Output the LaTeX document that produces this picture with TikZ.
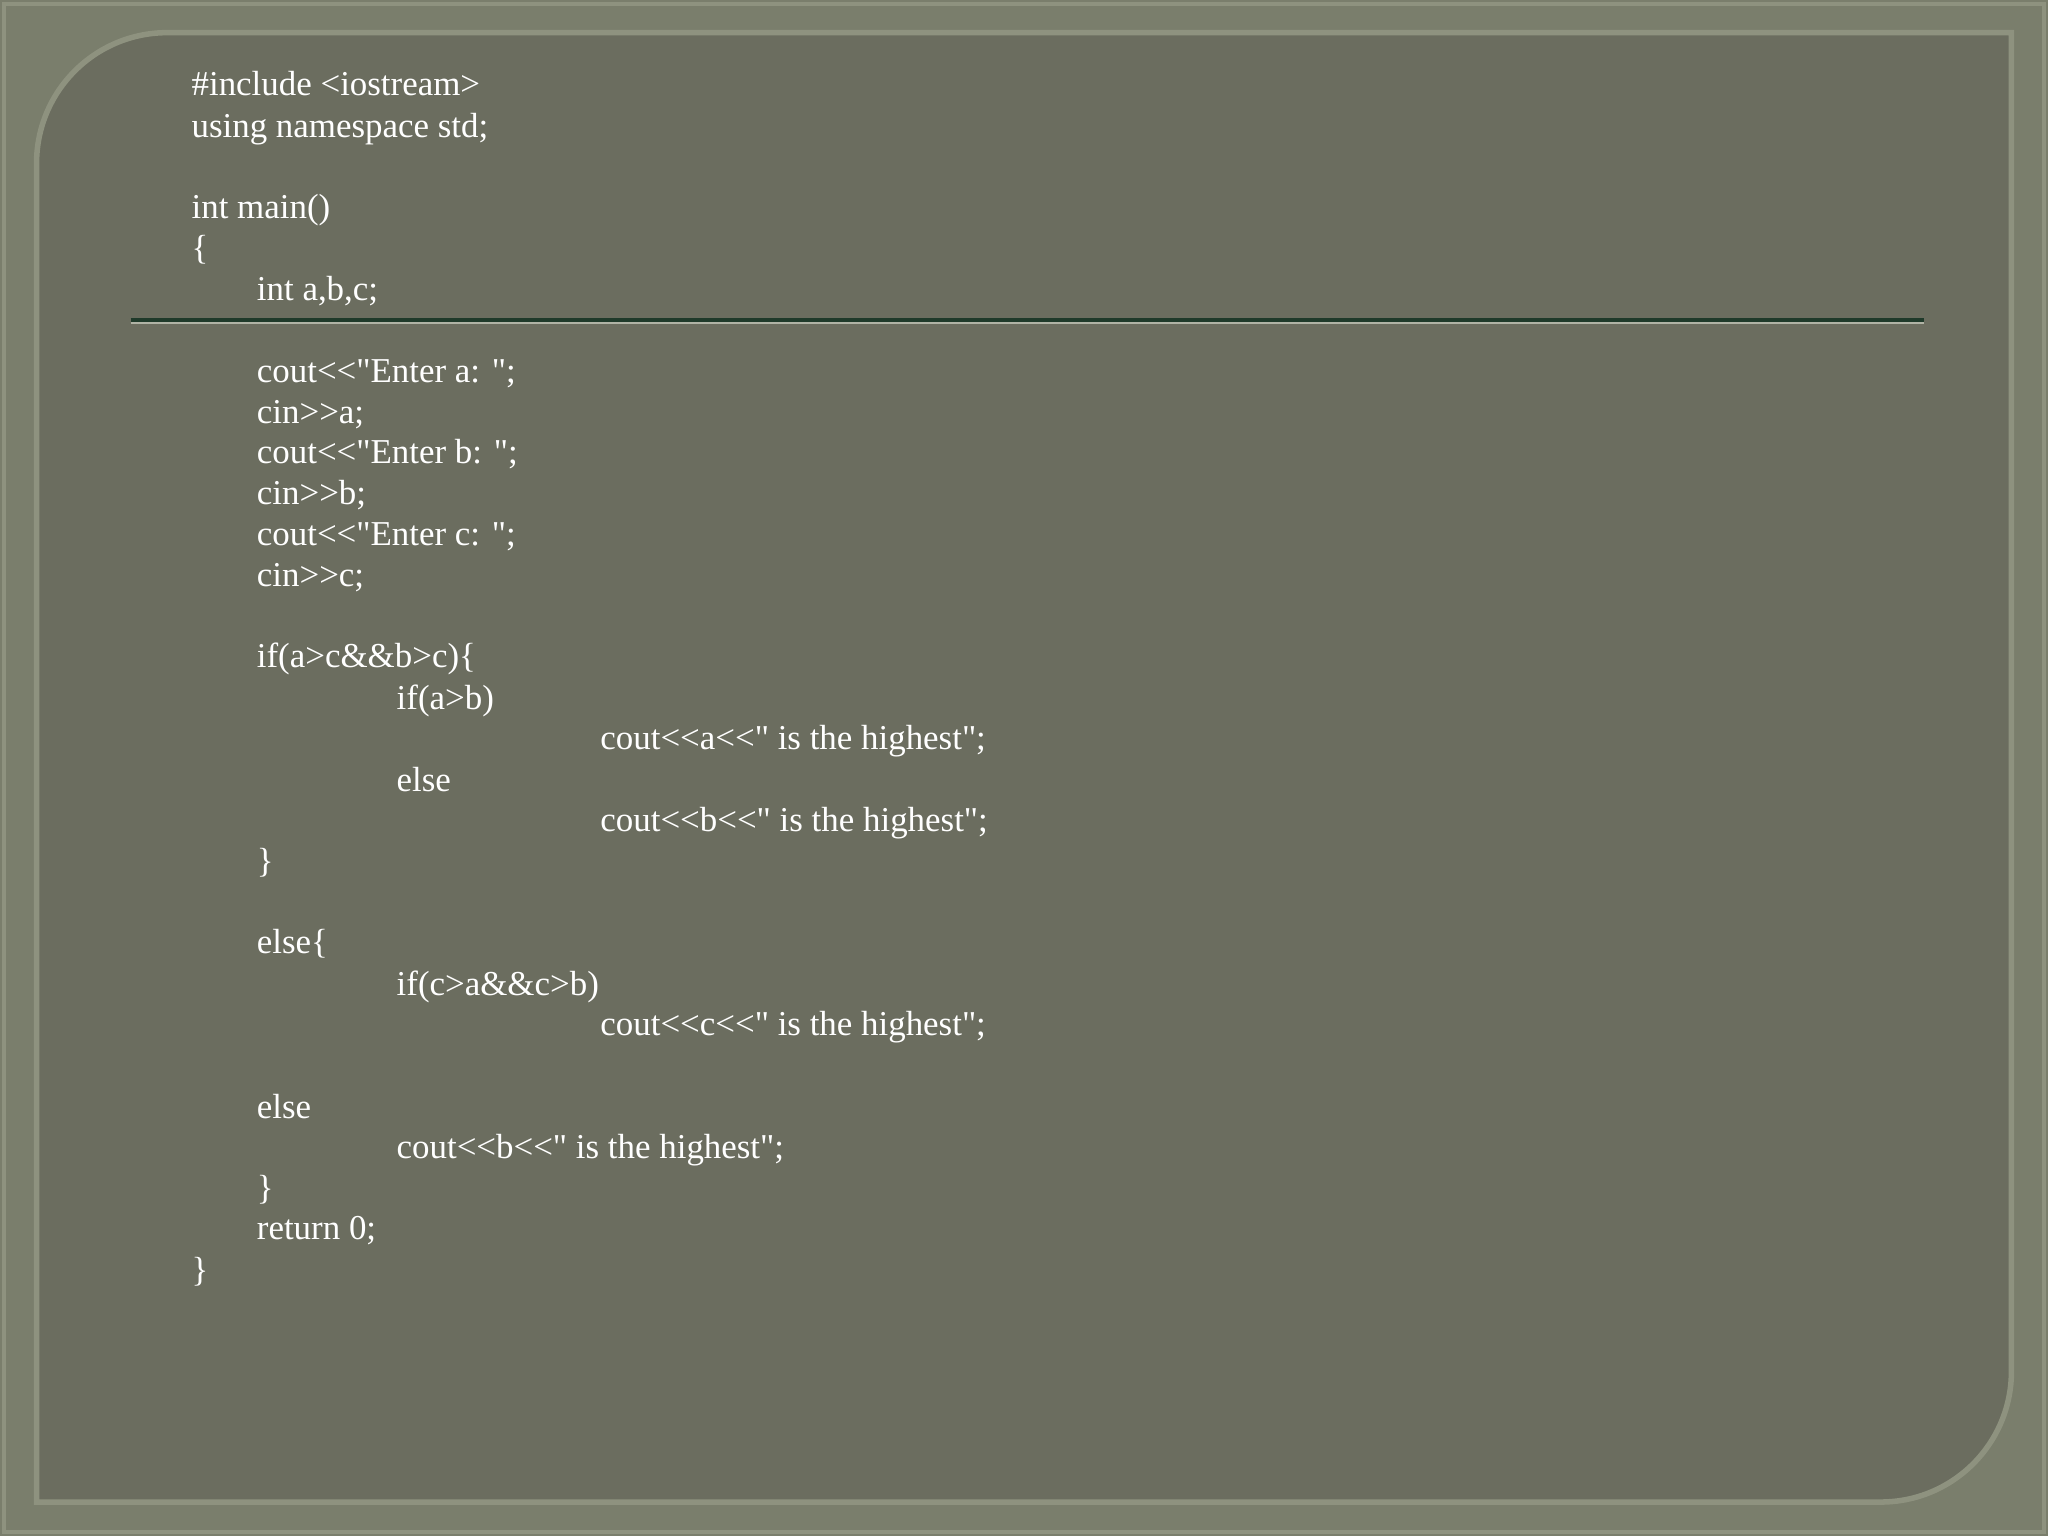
\documentclass[tikz,border=0pt]{standalone}
\usepackage{fontspec}
\newfontfamily\codefont{Liberation Serif}
\definecolor{outerbg}{HTML}{7A7E6C}
\definecolor{panel}{HTML}{6B6D5F}
\definecolor{edge}{HTML}{8E927F}
\definecolor{rulec}{HTML}{1F3A2A}
\begin{document}
\begin{tikzpicture}[x=0.01cm,y=-0.01cm,
  code/.style={anchor=base west,inner sep=0pt,text=white,font=\codefont\fontsize{7.6pt}{8pt}\selectfont}]
\useasboundingbox (0,0) rectangle (1568,1176);
\fill[outerbg] (0,0) rectangle (1568,1176);
\draw[edge,line width=1pt] (3,3) rectangle (1565,1173);
\fill[panel,draw=edge,line width=1.2pt] (28,125) arc[start angle=180,end angle=270,radius=100] -- (1540,25) -- (1540,1050) arc[start angle=0,end angle=90,radius=100] -- (28,1150) -- cycle;
\draw[rulec,line width=1pt] (100,245) -- (1473,245);
\draw[edge!70!white,line width=0.4pt] (100,247) -- (1473,247);
\foreach \x/\y/\t [count=\i] in {
146/73/{\#include <iostream>},
146/105/{using namespace std;},
146/167/{int main()},
146/199/{\{},
196/230/{int a,b,c;},
196/293/{cout<<"Enter a: ";},
196/324/{cin>>a;},
196/355/{cout<<"Enter b: ";},
196/386/{cin>>b;},
196/418/{cout<<"Enter c: ";},
196/449/{cin>>c;},
196/511/{if(a>c\&\&b>c)\{},
303/543/{if(a>b)},
459/574/{cout<<a<<" is the highest";},
303/606/{else},
459/637/{cout<<b<<" is the highest";},
196/668/{\}},
196/730/{else\{},
303/762/{if(c>a\&\&c>b)},
459/793/{cout<<c<<" is the highest";},
196/856/{else},
303/887/{cout<<b<<" is the highest";},
196/918/{\}},
196/949/{return 0;},
146/981/{\}}}
  \node[code] (l\i) at (\x,\y) {\t};
\end{tikzpicture}
\end{document}
